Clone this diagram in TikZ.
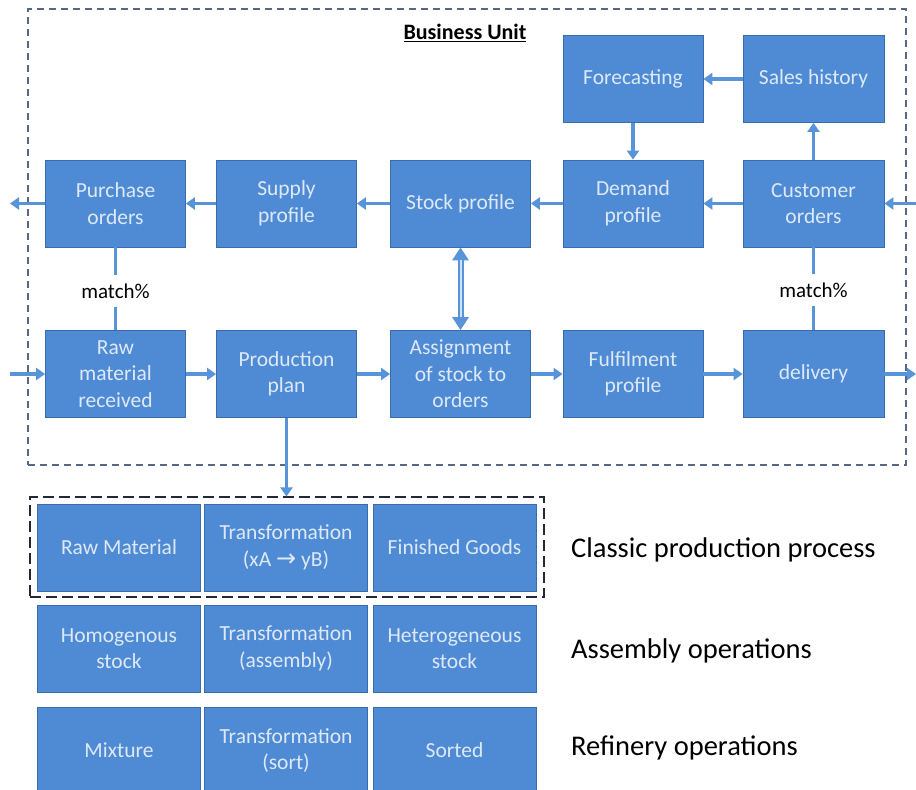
\documentclass[tikz,border=0pt]{standalone}
\usepackage{fontspec}
\setmainfont{Carlito}
\newfontfamily\arrowfont{DejaVu Sans}
\usetikzlibrary{arrows.meta}

\definecolor{boxfill}{RGB}{79,139,212}
\definecolor{boxline}{RGB}{58,108,172}
\definecolor{boxtext}{RGB}{222,233,248}
\definecolor{flow}{RGB}{88,148,218}
\definecolor{flowcore}{RGB}{205,224,244}
\definecolor{unitframe}{RGB}{85,105,135}
\definecolor{groupframe}{RGB}{35,40,55}

\begin{document}
\begin{tikzpicture}[x=1pt,y=-1pt,
  blk/.style={draw=boxline, line width=0.8pt, fill=boxfill, text=boxtext,
    align=center, inner sep=0pt, minimum width=140pt, minimum height=87pt,
    font=\fontsize{21.5}{26.5}\selectfont},
  cell/.style={blk, minimum width=163pt},
  flowarrow/.style={flow, line width=3.5pt, -{Triangle[length=9pt,width=12pt]}},
  link/.style={flow, line width=3.5pt},
  lbl/.style={font=\fontsize{21}{25}\selectfont, inner sep=8pt},
  caption/.style={font=\fontsize{28.5}{32}\selectfont, anchor=base west, inner sep=0pt}
]
\fill[white] (0,0) rectangle (916,790);
\useasboundingbox (0,0) rectangle (916,790);

% business unit frame and title
\node[draw=unitframe, line width=1.2pt, dash pattern=on 7pt off 5pt,
      minimum width=878pt, minimum height=456pt, inner sep=0pt] (unit) at (467,237) {};
\node[font=\fontsize{22}{26}\selectfont\bfseries, inner sep=0pt] (title) at (465,33) {\underline{Business Unit}};

% planning side
\node[blk] (fc) at (633,79) {Forecasting};
\node[blk, minimum width=141pt] (sh) at (813.5,79) {Sales history};
\node[blk] (po) at (115.5,203.5) {Purchase\\orders};
\node[blk] (sp) at (286.5,203.5) {Supply\\profile};
\node[blk] (st) at (460.5,203.5) {Stock profile};
\node[blk] (dp) at (633,203.5) {Demand\\profile};
\node[blk, minimum width=141pt] (co) at (813.5,203.5) {Customer\\orders};

% execution side
\node[blk] (rm) at (115.5,374) {Raw\\material\\received};
\node[blk] (pp) at (286.5,374) {Production\\plan};
\node[blk] (as) at (460.5,374) {Assignment\\of stock to\\orders};
\node[blk] (fp) at (633,374) {Fulfilment\\profile};
\node[blk, minimum width=141pt] (dl) at (813.5,374) {delivery};

% match labels
\node[lbl] (m1) at (115.5,291) {match\%};
\node[lbl] (m2) at (813.5,290) {match\%};
\draw[link] (po) -- (m1);
\draw[link] (m1) -- (rm);
\draw[link] (co) -- (m2);
\draw[link] (m2) -- (dl);

% open ends of the flows
\coordinate (poout) at (10,203.5);
\coordinate (coin) at (916,203.5);
\coordinate (rmin) at (10,374);
\coordinate (dlout) at (916,374);

% upper flows
\draw[flowarrow] (co) -- (sh);
\draw[flowarrow] (sh) -- (fc);
\draw[flowarrow] (fc) -- (dp);
\draw[flowarrow] (coin) -- (co);
\draw[flowarrow] (co) -- (dp);
\draw[flowarrow] (dp) -- (st);
\draw[flowarrow] (st) -- (sp);
\draw[flowarrow] (sp) -- (po);
\draw[flowarrow] (po) -- (poout);

% lower flows
\draw[flowarrow] (rmin) -- (rm);
\draw[flowarrow] (rm) -- (pp);
\draw[flowarrow] (pp) -- (as);
\draw[flowarrow] (as) -- (fp);
\draw[flowarrow] (fp) -- (dl);
\draw[flowarrow] (dl) -- (dlout);

% two-way link between stock profile and assignment
\draw[flow, line width=6pt, {Triangle[length=13pt,width=16pt]}-{Triangle[length=13pt,width=16pt]}] (st) -- (as);
\draw[flowcore, line width=2pt, shorten <=13pt, shorten >=13pt] (st) -- (as);

% process types
\node[draw=groupframe, line width=1.1pt, dash pattern=on 11pt off 5pt,
      minimum width=514pt, minimum height=100pt, inner sep=0pt] (grp) at (287,547) {};
\draw[flowarrow] (pp.south) -- (pp.south |- grp.north);

\node[cell] (c11) at (119,547.5) {Raw Material};
\node[cell] (c12) at (286,547.5) {Transformation\\(xA {\arrowfont\fontsize{24}{26.5}\selectfont →} yB)};
\node[cell] (c13) at (454.5,547.5) {Finished Goods};
\node[cell] (c21) at (119,648.5) {Homogenous\\stock};
\node[cell] (c22) at (286,648.5) {Transformation\\(assembly)};
\node[cell] (c23) at (454.5,648.5) {Heterogeneous\\stock};
\node[cell] (c31) at (119,750.5) {Mixture};
\node[cell] (c32) at (286,750.5) {Transformation\\(sort)};
\node[cell] (c33) at (454.5,750.5) {Sorted};

\node[caption] (k1) at (571,557) {Classic production process};
\node[caption] (k2) at (571,658) {Assembly operations};
\node[caption] (k3) at (571,755) {Refinery operations};
\end{tikzpicture}
\end{document}
